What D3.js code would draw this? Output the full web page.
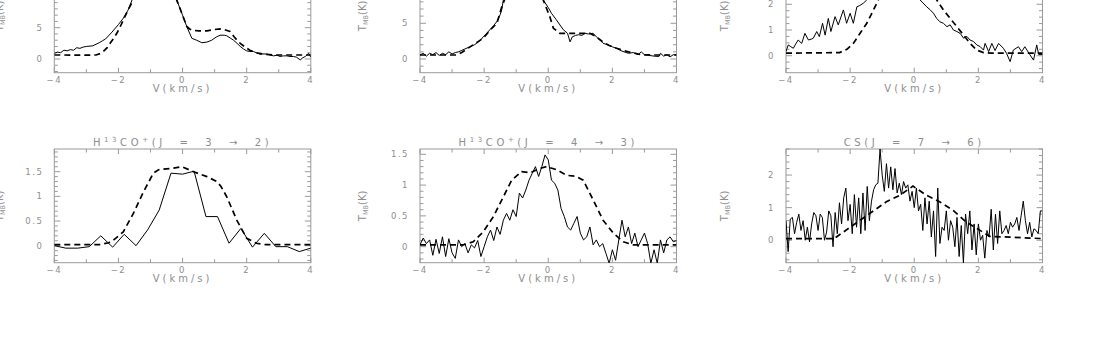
<!DOCTYPE html>
<html>
<head>
<meta charset="utf-8">
<script src="https://cdn.jsdelivr.net/npm/d3@7"></script>
<style>
body { margin: 0; background: #fff; }
svg text { font-family: "DejaVu Sans", sans-serif; fill: #8e8e8e; }
</style>
</head>
<body>
<svg id="chart" width="1100" height="349"></svg>
<script>
// velocity axis ticks shared by all six spectra
var velTicks = [-4, -2, 0, 2, 4];

// top-left spectrum (observed + model), TMB in K
var obsVelA = [-4.0,-3.9,-3.8,-3.7,-3.6,-3.5,-3.4,-3.3,-3.2,-3.1,-3.0,-2.8,-2.6,-2.5,-2.4,-2.2,-2.0,-1.85,-1.7,-1.6,-1.45,-1.3,-1.1,-0.9,-0.7,-0.5,-0.3,-0.18,0.0,0.13,0.29,0.44,0.6,0.76,0.91,1.05,1.17,1.3,1.38,1.5,1.59,1.7,1.8,1.9,2.0,2.1,2.21,2.3,2.42,2.5,2.63,2.75,2.84,2.95,3.04,3.15,3.25,3.35,3.46,3.55,3.67,3.75,3.83,3.93,4.0];
var obsTA    = [0.9,1.1,1.0,1.4,1.3,1.5,1.4,1.8,1.7,1.9,2.0,2.1,2.6,2.9,3.2,4.3,5.5,6.5,7.8,9.1,11.0,12.5,13.6,14.0,13.5,12.4,10.6,9.4,7.0,5.2,3.3,3.0,2.6,2.7,3.0,3.5,3.8,3.8,3.7,3.3,3.0,2.5,2.0,1.6,1.3,1.2,1.2,1.0,0.75,0.8,0.8,0.6,0.5,0.6,0.4,0.5,0.5,0.4,0.4,0.3,-0.15,0.2,0.4,0.9,0.3];
var modVelA = [-4.0,-3.0,-2.7,-2.55,-2.47,-2.35,-2.26,-2.15,-2.05,-1.95,-1.85,-1.75,-1.64,-1.5,-1.3,-1.1,-0.9,-0.7,-0.5,-0.3,-0.18,0.0,0.13,0.22,0.29,0.5,0.76,1.0,1.17,1.3,1.48,1.6,1.7,1.8,1.95,2.1,2.3,2.5,2.84,4.0];
var modTA    = [0.64,0.62,0.64,0.9,1.2,1.8,2.5,3.3,4.1,5.1,6.2,7.3,8.4,9.8,11.8,13.2,13.8,13.5,12.4,10.6,9.4,7.0,5.2,4.8,4.6,4.5,4.5,4.7,4.8,4.7,4.4,3.6,3.0,2.5,1.9,1.4,1.0,0.8,0.64,0.64];

// top-middle spectrum
var obsVelB = [-4.0,-3.9,-3.8,-3.7,-3.6,-3.5,-3.4,-3.3,-3.2,-3.1,-3.0,-2.9,-2.8,-2.7,-2.6,-2.5,-2.44,-2.3,-2.23,-2.1,-2.03,-1.9,-1.82,-1.7,-1.61,-1.5,-1.45,-1.4,-1.3,-1.1,-0.9,-0.7,-0.5,-0.3,-0.16,0.0,0.1,0.25,0.47,0.6,0.68,0.75,0.85,0.95,1.05,1.15,1.25,1.4,1.5,1.6,1.71,1.85,2.0,2.13,2.3,2.5,2.65,2.8,2.9,3.0,3.15,3.3,3.45,3.5,3.6,3.7,3.8,3.9,4.0];
var obsTB    = [0.56,0.8,0.4,0.8,0.6,0.9,0.5,0.8,0.6,1.0,0.7,0.9,1.0,1.2,1.4,1.6,1.7,2.0,2.2,2.7,3.1,3.7,4.1,4.7,5.2,6.2,6.9,8.3,9.5,11.0,11.8,11.9,11.4,10.2,8.3,7.2,6.4,5.5,4.1,3.6,2.4,3.1,3.3,3.4,3.3,3.6,3.5,3.6,3.1,2.7,2.2,2.0,1.7,1.5,1.1,0.8,0.9,0.6,1.0,0.6,0.5,0.4,0.35,0.8,0.4,0.6,0.3,0.6,0.56];
var modVelB = [-4.0,-2.86,-2.7,-2.44,-2.2,-2.03,-1.8,-1.6,-1.45,-1.3,-1.1,-0.9,-0.7,-0.5,-0.3,-0.16,0.05,0.16,0.36,0.7,1.3,1.5,1.7,1.9,2.13,2.5,2.9,3.2,4.0];
var modTB    = [0.56,0.56,0.9,1.7,2.4,2.9,4.1,5.0,7.3,9.0,10.8,11.8,12.0,11.5,10.3,8.3,5.9,4.3,3.6,3.6,3.6,3.1,2.4,1.9,1.5,1.0,0.6,0.56,0.56];

// top-right spectrum
var obsVelC = [-4.0,-3.93,-3.85,-3.77,-3.7,-3.62,-3.51,-3.41,-3.3,-3.2,-3.15,-3.04,-2.96,-2.86,-2.78,-2.68,-2.6,-2.47,-2.37,-2.21,-2.11,-2.0,-1.9,-1.79,-1.7,-1.59,-1.48,-1.3,-1.1,-0.9,-0.7,-0.5,-0.3,-0.1,0.18,0.39,0.5,0.6,0.7,0.8,0.91,1.02,1.12,1.22,1.33,1.43,1.54,1.64,1.74,1.85,1.95,2.06,2.16,2.21,2.32,2.42,2.52,2.63,2.78,2.88,2.99,3.09,3.25,3.35,3.45,3.6,3.72,3.82,3.88,4.0];
var obsTC    = [0.16,0.42,0.35,0.29,0.45,0.61,0.48,0.87,0.61,0.65,0.68,0.94,0.74,1.26,0.8,1.45,0.94,1.52,1.2,1.78,1.26,1.65,1.26,1.9,1.95,2.04,2.17,2.5,2.8,3.0,3.1,3.05,2.9,2.6,2.17,1.9,1.78,1.65,1.45,1.32,1.26,1.13,1.2,1.0,0.94,0.87,0.68,0.75,0.61,0.55,0.42,0.35,0.22,0.48,0.16,0.48,0.2,0.48,0.29,0.09,-0.23,0.22,0.35,0.16,0.35,0.05,-0.17,0.42,0.05,0.05];
var modVelC = [-4.0,-2.33,-2.1,-1.9,-1.69,-1.48,-1.27,-1.12,-0.9,-0.6,-0.3,0.0,0.3,0.5,0.7,0.91,1.12,1.33,1.54,1.74,1.95,2.16,2.4,4.0];
var modTC    = [0.1,0.12,0.25,0.48,0.87,1.26,1.78,2.17,2.6,3.0,3.2,3.2,3.0,2.6,2.17,1.78,1.45,1.13,0.8,0.48,0.22,0.12,0.1,0.1];

// H13CO+ (J = 3 -> 2)
var obsVelD = [-4.0,-3.64,-3.27,-2.91,-2.55,-2.18,-1.82,-1.45,-1.09,-0.73,-0.36,0.0,0.36,0.73,1.09,1.45,1.82,2.18,2.55,2.91,3.27,3.64,4.0];
var obsTD    = [0.0,-0.05,-0.05,-0.02,0.2,-0.03,0.23,0.0,0.32,0.72,1.47,1.45,1.51,0.59,0.59,0.05,0.35,-0.03,0.25,-0.02,-0.02,-0.12,-0.05];
var modVelD = [-4.0,-2.6,-2.3,-2.16,-1.85,-1.53,-1.22,-0.91,-0.75,-0.6,-0.3,-0.02,0.34,0.76,1.07,1.2,1.38,1.69,2.0,2.3,2.6,4.0];
var modTD    = [0.02,0.02,0.06,0.11,0.28,0.66,1.09,1.47,1.54,1.55,1.57,1.6,1.5,1.4,1.3,1.2,0.99,0.52,0.15,0.05,0.02,0.02];

// H13CO+ (J = 4 -> 3), observed channels every 0.1 km/s from -4 to 4
var obsTE = [0.03,0.14,0.05,0.11,-0.14,0.12,-0.11,0.16,-0.16,0.13,-0.1,-0.19,0.11,0.0,0.05,-0.1,0.03,-0.02,0.1,-0.16,
             0.0,0.16,0.27,0.1,0.32,0.2,0.43,0.54,0.43,0.6,0.49,0.87,0.79,0.92,1.08,1.19,1.3,1.14,1.3,1.49,
             1.41,1.08,1.03,0.92,0.62,0.49,0.32,0.27,0.38,0.49,0.22,0.11,0.16,0.32,0.03,0.11,0.0,0.05,-0.11,-0.27,
             -0.05,-0.22,0.11,0.43,0.16,0.32,0.05,0.22,0.0,0.11,0.22,0.05,-0.27,-0.05,-0.27,0.11,-0.1,0.11,0.16,0.08,0.1];
var modVelE = [-4.0,-2.65,-2.34,-2.03,-1.71,-1.4,-1.14,-0.83,-0.57,-0.26,-0.05,0.26,0.57,0.88,1.09,1.4,1.71,2.03,2.34,2.65,4.0];
var modTE    = [0.03,0.03,0.08,0.24,0.49,0.81,1.08,1.22,1.2,1.27,1.3,1.25,1.16,1.14,1.08,0.76,0.43,0.22,0.08,0.03,0.03];

// CS (J = 7 -> 6), observed channels every 1/15 km/s from -4 to 4
var obsTF = [0.6,-0.35,0.65,0.7,0.2,0.55,0.8,0.3,0.6,0.0,0.4,-0.05,0.5,0.85,0.75,
             0.3,0.8,0.7,0.0,0.25,0.9,0.75,-0.2,0.85,0.2,1.15,0.5,1.3,1.6,0.6,
             1.1,0.2,1.4,0.4,1.3,0.2,1.45,0.3,1.65,0.6,1.2,1.55,1.7,1.75,2.8,
             2.0,1.5,2.35,1.6,2.25,1.55,2.2,1.45,1.75,1.4,1.8,1.6,1.7,1.2,1.5,
             1.0,1.6,0.9,1.1,0.3,1.3,0.5,1.2,0.1,0.9,-0.5,1.6,-0.1,0.4,0.3,
             0.9,0.0,0.6,0.4,-0.2,0.7,-0.5,0.45,-0.7,0.8,0.2,0.9,-0.3,0.5,-0.45,
             0.5,0.0,0.15,-0.55,0.3,0.1,0.95,-0.3,0.8,-0.1,0.9,0.2,0.3,0.45,0.2,
             0.55,0.4,0.5,0.7,0.3,0.75,1.2,0.6,0.2,0.55,0.1,0.35,0.3,0.2,0.9,0.9];
var modVelF = [-4.0,-2.5,-1.39,-0.87,-0.45,-0.04,0.38,0.79,1.21,1.62,2.04,2.35,4.0];
var modTF    = [0.05,0.05,0.82,1.18,1.38,1.66,1.38,1.18,0.92,0.56,0.31,0.12,0.05];

var obsVelE = obsTE.map(function (d, i) { return -4 + i * 0.1; });
var obsVelF = obsTF.map(function (d, i) { return -4 + i / 15; });

var svg = d3.select("#chart");
var colX = [54.3, 420, 786];
var labelOff = [55, 58, 61.5];   // distance of the T_MB(K) label left of each column's frame
var rowY = [-41, 149];
var pw = 256.5, ph = 113.7;

var panels = [
  {col: 0, row: 0, y: [-2.19, 15.97], major: 5, minor: 1, ov: obsVelA, ot: obsTA, mv: modVelA, mt: modTA},
  {col: 1, row: 0, y: [-1.92, 14.0], major: 5, minor: 1, ov: obsVelB, ot: obsTB, mv: modVelB, mt: modTB},
  {col: 2, row: 0, y: [-0.66, 3.76], major: 1, minor: 0.25, ov: obsVelC, ot: obsTC, mv: modVelC, mt: modTC},
  {col: 0, row: 1, y: [-0.345, 1.96], major: 0.5, minor: 0.1, ov: obsVelD, ot: obsTD, mv: modVelD, mt: modTD,
   title: [["H", 0], ["13", 1], ["CO", 0], ["+", 1], ["(J = 3 \u2192 2)", 0]]},
  {col: 1, row: 1, y: [-0.26, 1.586], major: 0.5, minor: 0.1, ov: obsVelE, ot: obsTE, mv: modVelE, mt: modTE,
   title: [["H", 0], ["13", 1], ["CO", 0], ["+", 1], ["(J = 4 \u2192 3)", 0]]},
  {col: 2, row: 1, y: [-0.69, 2.8], major: 1, minor: 0.2, ov: obsVelF, ot: obsTF, mv: modVelF, mt: modTF,
   title: [["CS(J = 7 \u2192 6)", 0]]}
];

function stepRange(lo, hi, step) {
  var out = [];
  for (var k = Math.ceil(lo / step - 1e-6); k * step <= hi + 1e-9; k++) out.push(+(k * step).toFixed(4));
  return out;
}

panels.forEach(function (p, i) {
  var x0 = colX[p.col], y0 = rowY[p.row];
  var x = d3.scaleLinear().domain([-4, 4]).range([x0, x0 + pw]);
  var y = d3.scaleLinear().domain(p.y).range([y0 + ph, y0]);
  var g = svg.append("g");

  g.append("clipPath").attr("id", "clip" + i)
    .append("rect").attr("x", x0).attr("y", y0).attr("width", pw).attr("height", ph);

  // frame
  g.append("rect")
    .attr("x", x0).attr("y", y0).attr("width", pw).attr("height", ph)
    .attr("fill", "none").attr("stroke", "#9a9a9a").attr("stroke-width", 1);

  // x ticks (every 1 km/s, longer at labelled values), top and bottom
  stepRange(-4, 4, 1).forEach(function (v) {
    var len = (v % 2 === 0) ? 5 : 3.5;
    g.append("line").attr("x1", x(v)).attr("x2", x(v)).attr("y1", y0 + ph).attr("y2", y0 + ph - len)
      .attr("stroke", "#9a9a9a");
    g.append("line").attr("x1", x(v)).attr("x2", x(v)).attr("y1", y0).attr("y2", y0 + len)
      .attr("stroke", "#9a9a9a");
  });

  // y ticks, left and right
  stepRange(p.y[0], p.y[1], p.minor).forEach(function (t) {
    var isMajor = Math.abs(t / p.major - Math.round(t / p.major)) < 1e-6;
    var len = isMajor ? 6 : 3.5;
    g.append("line").attr("x1", x0).attr("x2", x0 + len).attr("y1", y(t)).attr("y2", y(t))
      .attr("stroke", "#9a9a9a");
    g.append("line").attr("x1", x0 + pw).attr("x2", x0 + pw - len).attr("y1", y(t)).attr("y2", y(t))
      .attr("stroke", "#9a9a9a");
  });

  // y tick labels (those lying above the page are not drawn)
  g.selectAll(".ylab")
    .data(stepRange(p.y[0], p.y[1], p.major).filter(function (d) { return y(d) > 4; }))
    .enter()
    .append("text")
    .attr("x", x0 - 11).attr("y", function (d) { return y(d); })
    .attr("dy", "0.35em").attr("text-anchor", "end")
    .attr("font-size", 8.5).attr("letter-spacing", 1.5)
    .text(d3.format("~g"));

  // x tick labels
  g.selectAll(".xlab").data(velTicks).enter()
    .append("text")
    .attr("x", function (d) { return x(d); }).attr("y", y0 + ph + 7)
    .attr("dy", "0.35em").attr("text-anchor", "middle")
    .attr("font-size", 8.5).attr("letter-spacing", 1.5)
    .text(d3.format("~g"));

  g.append("text")
    .attr("x", x0 + pw / 2).attr("y", y0 + ph + 15.5)
    .attr("dy", "0.35em").attr("text-anchor", "middle")
    .attr("font-size", 10).attr("letter-spacing", 3)
    .text("V(km/s)");

  // y axis label T_MB(K)
  var yl = g.append("text")
    .attr("transform", "translate(" + (x0 - labelOff[p.col]) + "," + (y0 + ph / 2) + ") rotate(-90)")
    .attr("text-anchor", "middle").attr("dy", "0.35em")
    .attr("font-size", 10);
  yl.append("tspan").text("T");
  yl.append("tspan").attr("font-size", 6.5).attr("dy", 2).text("MB");
  yl.append("tspan").attr("dy", -2).text("(K)");

  if (p.title) {
    var tt = g.append("text")
      .attr("x", x0 + pw / 2).attr("y", y0 - 3)
      .attr("text-anchor", "middle").attr("font-size", 10)
      .attr("letter-spacing", 3.6).attr("word-spacing", 7);
    var up = false;
    p.title.forEach(function (part) {
      var s = tt.append("tspan").text(part[0]);
      if (part[1] && !up) { s.attr("dy", -4).attr("font-size", 7); up = true; }
      else if (part[1]) { s.attr("font-size", 7); }
      else if (up) { s.attr("dy", 4); up = false; }
    });
  }

  var line = d3.line().x(function (d) { return x(d[0]); }).y(function (d) { return y(d[1]); });
  var plot = g.append("g").attr("clip-path", "url(#clip" + i + ")");

  plot.append("path")
    .datum(d3.zip(p.mv, p.mt))
    .attr("d", line)
    .attr("fill", "none").attr("stroke", "#000")
    .attr("stroke-width", 1.7).attr("stroke-dasharray", "6,4");

  plot.append("path")
    .datum(d3.zip(p.ov, p.ot))
    .attr("d", line)
    .attr("fill", "none").attr("stroke", "#000")
    .attr("stroke-width", 1);
});
</script>
</body>
</html>
